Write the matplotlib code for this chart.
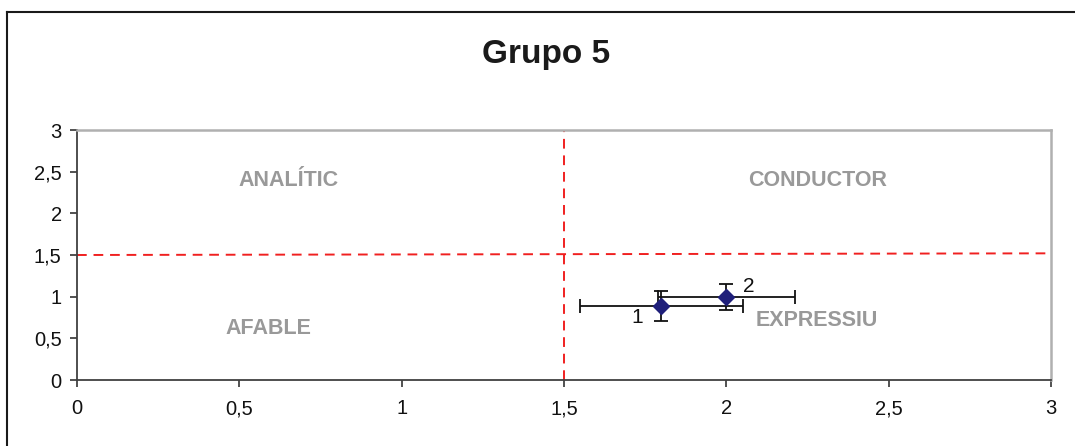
import matplotlib
matplotlib.use("Agg")
import matplotlib.pyplot as plt
from matplotlib.lines import Line2D

plt.rcParams['font.family'] = ['Liberation Sans', 'DejaVu Sans']

# data
x_vals = [1.80, 2.00]
y_vals = [0.89, 1.00]
x_err = [0.25, 0.21]
y_err = [0.18, 0.155]
point_labels = ['1', '2']

quad_names = ['ANALÍTIC', 'CONDUCTOR', 'AFABLE', 'EXPRESSIU']
quad_x = [0.65, 2.28, 0.59, 2.28]
quad_y = [2.39, 2.39, 0.62, 0.72]

split_x = [1.5, 1.5]
split_x_y = [0, 3]
split_y_x = [0, 3]
split_y = [1.5, 1.52]

ticks = [0, 0.5, 1, 1.5, 2, 2.5, 3]
tick_labels = ['0', '0,5', '1', '1,5', '2', '2,5', '3']

fig = plt.figure(figsize=(10.75, 4.46), dpi=100)
ax = fig.add_axes([77/1075, 66/446, 974/1075, 250/446])

# outer frame (only top and left visible in reference)
fig.add_artist(Line2D([7/1075, 1.0], [1 - 12/446, 1 - 12/446], transform=fig.transFigure,
                      color='#1a1a1a', lw=1.5))
fig.add_artist(Line2D([7/1075, 7/1075], [0, 1 - 12/446], transform=fig.transFigure,
                      color='#1a1a1a', lw=1.5))

ax.plot(split_x, split_x_y, color='#f02020', lw=1.4, ls=(0, (5, 3.5)), zorder=1)
ax.plot(split_y_x, split_y, color='#f02020', lw=1.4, ls=(0, (5, 3.5)), zorder=1)

ax.errorbar(x_vals, y_vals, xerr=x_err, yerr=y_err, fmt='D', color='#1f1f7a',
            ecolor='#111111', elinewidth=1.3, capsize=5, capthick=1.3,
            markersize=8, markeredgecolor='#1f1f7a', zorder=3)

ax.text(x_vals[0] - 0.075, y_vals[0] - 0.145, point_labels[0], fontsize=15,
        ha='center', va='center', color='#111111')
ax.text(x_vals[1] + 0.07, y_vals[1] + 0.12, point_labels[1], fontsize=15,
        ha='center', va='center', color='#111111')

for name, qx, qy in zip(quad_names, quad_x, quad_y):
    ax.text(qx, qy, name, fontsize=15.5, fontweight='bold', color='#999999',
            ha='center', va='center')

ax.set_xlim(0, 3)
ax.set_ylim(0, 3)
ax.set_xticks(ticks)
ax.set_xticklabels(tick_labels)
ax.set_yticks(ticks)
ax.set_yticklabels(tick_labels)
ax.tick_params(labelsize=14.5, length=5, width=1.2, color='#333333', pad=9,
               labelcolor='#111111')
ax.tick_params(axis='y', pad=6)

for side in ['top', 'right']:
    ax.spines[side].set_color('#b0b0b0')
    ax.spines[side].set_linewidth(1.8)
for side in ['left', 'bottom']:
    ax.spines[side].set_color('#404040')
    ax.spines[side].set_linewidth(1.3)

fig.text(546/1075, 1 - 55/446, 'Grupo 5', fontsize=24, fontweight='bold',
         ha='center', va='center', color='#1a1a1a')

fig.savefig('out.png', dpi=100)
